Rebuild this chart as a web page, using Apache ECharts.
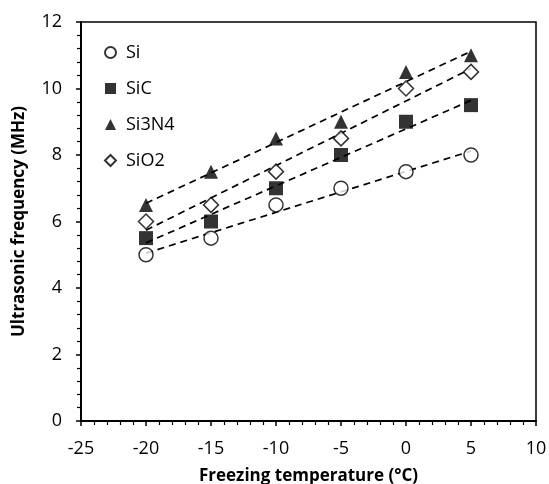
<!DOCTYPE html>
<html>
<head>
<meta charset="utf-8">
<script src="https://cdn.jsdelivr.net/npm/echarts@6/dist/echarts.min.js"></script>
<style>
  html, body { margin: 0; padding: 0; background: #fff; }
  #chart { width: 549px; height: 484px; }
</style>
</head>
<body>
<div id="chart"></div>
<script>
var temps = [-20, -15, -10, -5, 0, 5];
var si = [5, 5.5, 6.5, 7, 7.5, 8];
var sic = [5.5, 6, 7, 8, 9, 9.5];
var si3n4 = [6.5, 7.5, 8.5, 9, 10.5, 11];
var sio2 = [6, 6.5, 7.5, 8.5, 10, 10.5];
var names = ['Si', 'SiC', 'Si3N4', 'SiO2'];

var FONT = 'Open Sans';

// least squares trendline over the data range (like excel)
var trend = function (xs, ys) {
    var n = xs.length, mx = 0, my = 0;
    xs.forEach((x, i) => { mx += x; my += ys[i]; });
    mx /= n; my /= n;
    var sxy = 0, sxx = 0;
    xs.forEach((x, i) => { sxy += (x - mx) * (ys[i] - my); sxx += (x - mx) * (x - mx); });
    var b = sxy / sxx, a = my - b * mx;
    var x0 = xs[0], x1 = xs[n - 1];
    return [[x0, a + b * x0], [x1, a + b * x1]];
};

var pts = ys => temps.map((t, i) => [t, ys[i]]);

var markers = [
    { name: 'Si', data: si, symbol: 'circle', size: 14, open: true },
    { name: 'SiC', data: sic, symbol: 'rect', size: 14, open: false },
    { name: 'Si3N4', data: si3n4, symbol: 'triangle', size: 14, open: false },
    { name: 'SiO2', data: sio2, symbol: 'diamond', size: 15, open: true }
];

var series = [];
markers.forEach(m => {
    series.push({
        name: m.name + '_trend',
        type: 'line',
        data: trend(temps, m.data),
        showSymbol: false,
        symbol: 'none',
        silent: true,
        lineStyle: { color: '#000', width: 1.7, type: [7, 5] },
        z: 1
    });
});
markers.forEach(m => {
    series.push({
        name: m.name,
        type: 'scatter',
        data: pts(m.data),
        symbol: m.symbol,
        symbolSize: m.size,
        itemStyle: m.open
            ? { color: '#fff', borderColor: '#000', borderWidth: 1.5 }
            : { color: '#000', borderColor: '#000', borderWidth: 0 },
        z: 3
    });
});

var chart = echarts.init(document.getElementById('chart'), null, { renderer: 'canvas' });
chart.setOption({
    animation: false,
    backgroundColor: '#fff',
    grid: {
        left: 81, right: 13, top: 22, bottom: 63,
        outerBoundsMode: 'none',
        containLabel: false,
        show: true, borderColor: '#000', borderWidth: 1.5
    },
    legend: {
        data: names,
        orient: 'vertical',
        left: 104,
        top: 40,
        padding: 0,
        itemGap: 11,
        itemWidth: 11,
        itemHeight: 11,
        textStyle: { fontFamily: FONT, fontSize: 18, color: '#000', padding: [0, 0, 0, 5], lineHeight: 25 }
    },
    xAxis: {
        type: 'value',
        min: -25, max: 10, interval: 5,
        name: 'Freezing temperature (°C)',
        nameLocation: 'middle',
        nameGap: 47,
        nameTextStyle: { fontFamily: FONT, fontSize: 17, fontWeight: 'bold', color: '#000' },
        axisLine: { show: true, onZero: false, lineStyle: { color: '#000', width: 2 } },
        axisTick: { show: true, inside: false, length: 5, lineStyle: { color: '#000', width: 1.5 } },
        minorTick: { show: true, splitNumber: 5, length: 4, lineStyle: { color: '#000', width: 1.2 } },
        axisLabel: { fontFamily: FONT, fontSize: 18, color: '#000', margin: 19 },
        splitLine: { show: false }
    },
    yAxis: {
        type: 'value',
        min: 0, max: 12, interval: 2,
        name: 'Ultrasonic frequency (MHz)',
        nameLocation: 'middle',
        nameGap: 53,
        nameTextStyle: { fontFamily: FONT, fontSize: 17, fontWeight: 'bold', color: '#000' },
        axisLine: { show: true, onZero: false, lineStyle: { color: '#000', width: 2 } },
        axisTick: { show: true, inside: false, length: 5, lineStyle: { color: '#000', width: 1.5 } },
        minorTick: { show: true, splitNumber: 5, length: 4, lineStyle: { color: '#000', width: 1.2 } },
        axisLabel: { fontFamily: FONT, fontSize: 18, color: '#000', margin: 19 },
        splitLine: { show: false }
    },
    series: series
});
</script>
</body>
</html>
